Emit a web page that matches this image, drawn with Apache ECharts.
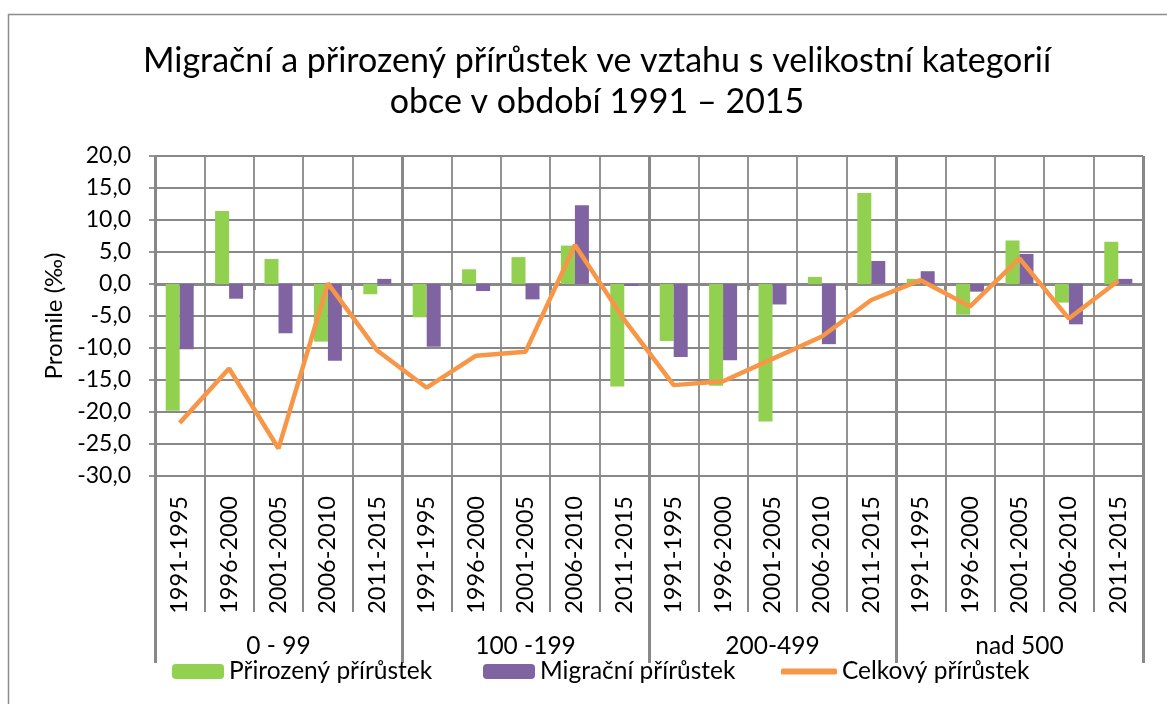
<!DOCTYPE html>
<html>
<head>
<meta charset="utf-8">
<script src="https://cdn.jsdelivr.net/npm/echarts@6/dist/echarts.min.js"></script>
<style>
html,body{margin:0;padding:0;background:#fff;}
#chart{width:1167px;height:704px;}
</style>
</head>
<body>
<div id="chart"></div>
<script>
// ---- data ----
const titleText = 'Migrační a přirozený přírůstek ve vztahu s velikostní kategorií\nobce v období 1991 – 2015';
const yAxisName = 'Promile (‰)';
const periods = ['1991-1995', '1996-2000', '2001-2005', '2006-2010', '2011-2015'];
const sizeGroups = ['0 - 99', '100 -199', '200-499', 'nad 500'];
const seriesNames = ['Přirozený přírůstek', 'Migrační přírůstek', 'Celkový přírůstek'];
const natural   = [-19.8, 11.4, 3.9, -9.0, -1.6,  -5.2, 2.3, 4.2, 6.0, -16.0,  -8.9, -15.9, -21.5, 1.1, 14.2,  0.8, -4.8, 6.8, -2.9, 6.6];
const migration = [-10.2, -2.3, -7.7, -12.0, 0.8,  -9.8, -1.1, -2.4, 12.3, -0.3,  -11.4, -11.9, -3.2, -9.4, 3.6,  2.0, -1.2, 4.7, -6.3, 0.8];
const total     = [-21.7, -13.2, -25.7, 0.1, -10.4,  -16.2, -11.2, -10.6, 6.1, -5.6,  -15.8, -15.2, -11.7, -8.2, -2.5,  0.6, -3.5, 4.0, -5.4, 0.5];

const categories = [];
sizeGroups.forEach(function () { periods.forEach(function (p) { categories.push(p); }); });

const FONT = 'Lato';
const GRID = '#888888';
const chart = echarts.init(document.getElementById('chart'), null, {renderer: 'canvas'});

const option = {
  backgroundColor: '#ffffff',
  animation: false,
  textStyle: {fontFamily: FONT, color: '#000'},
  title: {
    text: titleText,
    left: 597,
    textAlign: 'center',
    top: 41,
    padding: 0,
    textStyle: {fontFamily: FONT, fontWeight: 'normal', fontSize: 34, lineHeight: 41, color: '#000'}
  },
  graphic: [{
    type: 'rect', silent: true, z: -1,
    shape: {x: 8.5, y: 14.5, width: 1400, height: 1000},
    style: {fill: 'none', stroke: '#8c8c8c', lineWidth: 1.5}
  }],
  legend: [
    {data: [seriesNames[0]], left: 172, top: 659, padding: 0, itemWidth: 52, itemHeight: 15,
     textStyle: {fontFamily: FONT, fontSize: 24.5, color: '#000'}},
    {data: [seriesNames[1]], left: 483, top: 659, padding: 0, itemWidth: 52, itemHeight: 15,
     textStyle: {fontFamily: FONT, fontSize: 24.5, color: '#000'}},
    {data: [{name: seriesNames[2], icon: 'roundRect'}], left: 781, top: 659, padding: 0, itemWidth: 56, itemHeight: 6,
     itemStyle: {color: '#F79646', borderWidth: 0},
     textStyle: {fontFamily: FONT, fontSize: 24.5, color: '#000'}}
  ],
  grid: {left: 155, right: 24, top: 156, bottom: 228, containLabel: false},
  xAxis: [
    {
      type: 'category', data: categories, position: 'bottom', boundaryGap: true,
      axisLine: {onZero: false, show: true, lineStyle: {color: GRID, width: 1.5}},
      axisTick: {show: true, length: 136, lineStyle: {color: GRID, width: 2}},
      axisLabel: {rotate: 90, margin: 20, fontSize: 23.5, fontFamily: FONT, color: '#000', interval: 0},
      splitLine: {show: true, lineStyle: {color: GRID, width: 1.8}}
    },
    {
      type: 'category', data: sizeGroups, position: 'bottom', boundaryGap: true,
      axisLine: {onZero: false, show: false},
      axisTick: {show: true, length: 187, lineStyle: {color: GRID, width: 3}},
      axisLabel: {margin: 158, fontSize: 24.5, fontFamily: FONT, color: '#000', interval: 0},
      splitLine: {show: true, lineStyle: {color: GRID, width: 3}}
    },
    {
      type: 'category', data: categories, position: 'bottom', boundaryGap: true,
      axisLine: {onZero: true, show: true, lineStyle: {color: GRID, width: 3}},
      axisTick: {show: true, length: 6, lineStyle: {color: GRID, width: 3}},
      axisLabel: {show: false},
      splitLine: {show: false}
    }
  ],
  yAxis: {
    type: 'value', min: -30, max: 20, interval: 5,
    name: yAxisName, nameLocation: 'middle', nameGap: 86,
    nameTextStyle: {fontFamily: FONT, fontSize: 24, color: '#000'},
    axisLine: {show: true, lineStyle: {color: GRID, width: 1.8}},
    axisTick: {show: true, length: 6, lineStyle: {color: GRID, width: 1.8}},
    axisLabel: {margin: 24, fontSize: 23, fontFamily: FONT, color: '#000',
      formatter: function (v) { return v.toFixed(1).replace('.', ','); }},
    splitLine: {show: true, lineStyle: {color: GRID, width: 1.8}}
  },
  series: [
    {name: seriesNames[0], type: 'bar', xAxisIndex: 0, data: natural, barWidth: 14, barGap: '0%',
     itemStyle: {color: '#92D050'}},
    {name: seriesNames[1], type: 'bar', xAxisIndex: 0, data: migration, barWidth: 14, barGap: '0%',
     itemStyle: {color: '#8064A2'}},
    {name: seriesNames[2], type: 'line', xAxisIndex: 0, data: total, symbol: 'none', z: 5,
     lineStyle: {color: '#F79646', width: 4.5}, itemStyle: {color: '#F79646'}}
  ]
};
chart.setOption(option);
</script>
</body>
</html>
